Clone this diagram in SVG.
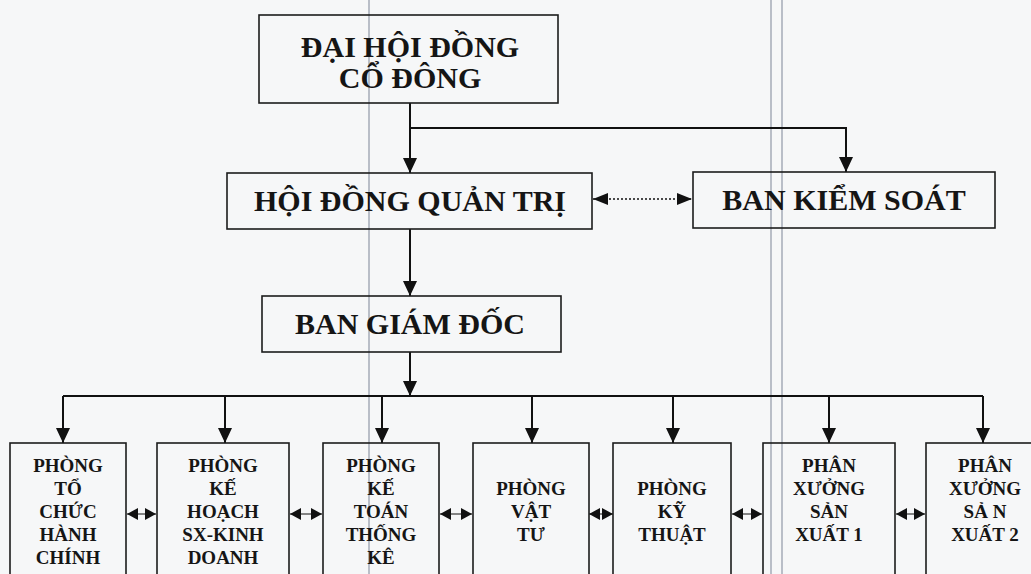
<svg xmlns="http://www.w3.org/2000/svg" width="1031" height="574" viewBox="0 0 1031 574">
  <style>
    .box { fill: none; stroke: #1c1c1c; stroke-width: 1.6; }
    .t { font-weight: 700; fill: #151515; text-anchor: middle; }
    .big { font-size: 30px; }
    .small { font-size: 19px; }
    .ln { fill: none; stroke: #111; stroke-width: 2; }
    .thin { stroke-width: 1; }
    .dot { fill: none; stroke: #111; stroke-width: 1.6; stroke-dasharray: 2 2; }
    .scan { stroke: #98a0ad; stroke-width: 1.3; }
  </style>
  <defs>
    <marker id="arr" markerUnits="userSpaceOnUse" markerWidth="15" markerHeight="14" refX="15" refY="7" orient="auto">
      <path d="M0,0 L15,7 L0,14 z" fill="#111"/>
    </marker>
    <marker id="sarr" markerUnits="userSpaceOnUse" markerWidth="11" markerHeight="12" refX="11" refY="6" orient="auto-start-reverse">
      <path d="M0,0 L11,6 L0,12 z" fill="#111"/>
    </marker>
    <marker id="darr" markerUnits="userSpaceOnUse" markerWidth="15" markerHeight="12" refX="15" refY="6" orient="auto-start-reverse">
      <path d="M0,0 L15,6 L0,12 z" fill="#111"/>
    </marker>
  </defs>
  <rect x="0" y="0" width="1031" height="574" fill="#f6f7f8"/>
  <g id="scan-lines">
    <line class="scan" x1="369" y1="0" x2="369" y2="574"/>
    <line class="scan" x1="771" y1="0" x2="771" y2="574"/>
    <line class="scan" x1="782" y1="0" x2="782" y2="574"/>
  </g>

  <g id="connectors">
    <line class="ln" x1="410" y1="103" x2="410" y2="173" marker-end="url(#arr)"/>
    <polyline class="ln" points="410,128 846,128 846,172" marker-end="url(#arr)"/>
    <line class="dot" x1="593" y1="199" x2="692" y2="199" marker-start="url(#darr)" marker-end="url(#darr)"/>
    <line class="ln" x1="410" y1="229" x2="410" y2="296" marker-end="url(#arr)"/>
    <line class="ln" x1="410" y1="352" x2="410" y2="396" marker-end="url(#arr)"/>
    <line class="ln" x1="63" y1="396" x2="983" y2="396"/>
    <line class="ln" x1="63" y1="396" x2="63" y2="443" marker-end="url(#arr)"/>
    <line class="ln" x1="225" y1="396" x2="225" y2="443" marker-end="url(#arr)"/>
    <line class="ln" x1="382" y1="396" x2="382" y2="443" marker-end="url(#arr)"/>
    <line class="ln" x1="532" y1="396" x2="532" y2="443" marker-end="url(#arr)"/>
    <line class="ln" x1="673" y1="396" x2="673" y2="443" marker-end="url(#arr)"/>
    <line class="ln" x1="829" y1="396" x2="829" y2="443" marker-end="url(#arr)"/>
    <line class="ln" x1="983" y1="396" x2="983" y2="443" marker-end="url(#arr)"/>
    <line class="ln thin" x1="127" y1="514" x2="156" y2="514" marker-start="url(#sarr)" marker-end="url(#sarr)"/>
    <line class="ln thin" x1="290" y1="514" x2="322" y2="514" marker-start="url(#sarr)" marker-end="url(#sarr)"/>
    <line class="ln thin" x1="440" y1="514" x2="472" y2="514" marker-start="url(#sarr)" marker-end="url(#sarr)"/>
    <line class="ln thin" x1="589" y1="514" x2="613" y2="514" marker-start="url(#sarr)" marker-end="url(#sarr)"/>
    <line class="ln thin" x1="732" y1="514" x2="762" y2="514" marker-start="url(#sarr)" marker-end="url(#sarr)"/>
    <line class="ln thin" x1="896" y1="514" x2="925" y2="514" marker-start="url(#sarr)" marker-end="url(#sarr)"/>
  </g>

  <g id="nodes" font-family="Liberation Serif, Times New Roman, serif">
  <g id="dai-hoi-dong-co-dong">
    <rect class="box" x="259" y="15" width="299" height="88"/>
    <text class="t big" x="410" y="57">ĐẠI HỘI ĐỒNG</text>
    <text class="t big" x="410" y="88">CỔ ĐÔNG</text>
  </g>
  <g id="hoi-dong-quan-tri">
    <rect class="box" x="227" y="173" width="365" height="56"/>
    <text class="t big" x="410" y="211">HỘI ĐỒNG QUẢN TRỊ</text>
  </g>
  <g id="ban-kiem-soat">
    <rect class="box" x="693" y="172" width="302" height="56"/>
    <text class="t big" x="844" y="210">BAN KIỂM SOÁT</text>
  </g>
  <g id="ban-giam-doc">
    <rect class="box" x="262" y="296" width="299" height="56"/>
    <text class="t big" x="410" y="334">BAN GIÁM ĐỐC</text>
  </g>

  <g id="phong-to-chuc-hanh-chinh">
    <rect class="box" x="10" y="443" width="116" height="150"/>
    <text class="t small" x="68" y="472">PHÒNG</text>
    <text class="t small" x="68" y="495">TỔ</text>
    <text class="t small" x="68" y="518">CHỨC</text>
    <text class="t small" x="68" y="541">HÀNH</text>
    <text class="t small" x="68" y="564">CHÍNH</text>
  </g>
  <g id="phong-ke-hoach">
    <rect class="box" x="157" y="443" width="132" height="150"/>
    <text class="t small" x="223" y="472">PHÒNG</text>
    <text class="t small" x="223" y="495">KẾ</text>
    <text class="t small" x="223" y="518">HOẠCH</text>
    <text class="t small" x="223" y="541">SX-KINH</text>
    <text class="t small" x="223" y="564">DOANH</text>
  </g>
  <g id="phong-ke-toan">
    <rect class="box" x="323" y="443" width="116" height="150"/>
    <text class="t small" x="381" y="472">PHÒNG</text>
    <text class="t small" x="381" y="495">KẾ</text>
    <text class="t small" x="381" y="518">TOÁN</text>
    <text class="t small" x="381" y="541">THỐNG</text>
    <text class="t small" x="381" y="564">KÊ</text>
  </g>
  <g id="phong-vat-tu">
    <rect class="box" x="473" y="443" width="116" height="150"/>
    <text class="t small" x="531" y="495">PHÒNG</text>
    <text class="t small" x="531" y="518">VẬT</text>
    <text class="t small" x="531" y="541">TƯ</text>
  </g>
  <g id="phong-ky-thuat">
    <rect class="box" x="613" y="443" width="118" height="150"/>
    <text class="t small" x="672" y="495">PHÒNG</text>
    <text class="t small" x="672" y="518">KỸ</text>
    <text class="t small" x="672" y="541">THUẬT</text>
  </g>
  <g id="phan-xuong-1">
    <rect class="box" x="763" y="443" width="132" height="150"/>
    <text class="t small" x="829" y="472">PHÂN</text>
    <text class="t small" x="829" y="495">XƯỞNG</text>
    <text class="t small" x="829" y="518">SẢN</text>
    <text class="t small" x="829" y="541">XUẤT 1</text>
  </g>
  <g id="phan-xuong-2">
    <rect class="box" x="926" y="443" width="120" height="150"/>
    <text class="t small" x="985" y="472">PHÂN</text>
    <text class="t small" x="985" y="495">XƯỞNG</text>
    <text class="t small" x="985" y="518">SẢ N</text>
    <text class="t small" x="985" y="541">XUẤT 2</text>
  </g>
  </g>
</svg>
